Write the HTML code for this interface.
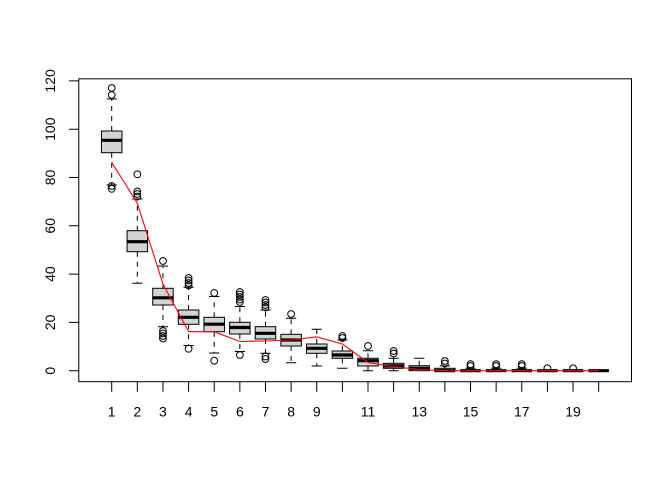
<!DOCTYPE html>
<html><head><meta charset="utf-8"><style>
html,body{margin:0;padding:0;background:#fff;}
svg{display:block;}
text{font-family:"Liberation Sans",Arial,sans-serif;font-size:14px;fill:#000;}
</style></head><body>
<svg xmlns="http://www.w3.org/2000/svg" width="672" height="480" viewBox="0 0 672 480">
<rect width="672" height="480" fill="#fff"/>
<g stroke="#000" stroke-width="1" fill="none">
<path stroke-dasharray="5,5" d="M111.7 131V99M111.7 152.7V185M137.33 230.7V199M137.33 251.7V283.3M162.96 288.3V266M162.96 305V326.7M188.59 310V287.3M188.59 324.3V345.5M214.22 317.3V296.5M214.22 331.7V353M239.85 322.3V306.5M239.85 334V351.5M265.48 326.7V310M265.48 339V353.3M291.11 334.3V318.3M291.11 346V362.7M316.74 344V329.3M316.74 353.3V366M342.37 351V340M342.37 358.3V368.3M368 358.3V350.7M368 366V370.7M393.63 363.3V358.3M393.63 368.3V370.7M419.26 365.7V358.3M444.89 368.3V365.9M470.52 370.7V368.3M496.15 370.7V368.3M521.78 370.7V368.3"/>
<path d="M106.6 99H116.8M106.6 185H116.8M132.23 199H142.43M132.23 283.3H142.43M157.86 266H168.06M157.86 326.7H168.06M183.49 287.3H193.69M183.49 345.5H193.69M209.12 296.5H219.32M209.12 353H219.32M234.75 306.5H244.95M234.75 351.5H244.95M260.38 310H270.58M260.38 353.3H270.58M286.01 318.3H296.21M286.01 362.7H296.21M311.64 329.3H321.84M311.64 366H321.84M337.27 340H347.47M337.27 368.3H347.47M362.9 350.7H373.1M362.9 370.7H373.1M388.53 358.3H398.73M388.53 370.7H398.73M414.16 358.3H424.36M439.79 365.9H449.99M465.42 368.3H475.62M491.05 368.3H501.25M516.68 368.3H526.88"/>
<g fill="#d3d3d3">
<rect x="101.45" y="131" width="20.5" height="21.7"/>
<rect x="127.08" y="230.7" width="20.5" height="21"/>
<rect x="152.71" y="288.3" width="20.5" height="16.7"/>
<rect x="178.34" y="310" width="20.5" height="14.3"/>
<rect x="203.97" y="317.3" width="20.5" height="14.4"/>
<rect x="229.6" y="322.3" width="20.5" height="11.7"/>
<rect x="255.23" y="326.7" width="20.5" height="12.3"/>
<rect x="280.86" y="334.3" width="20.5" height="11.7"/>
<rect x="306.49" y="344" width="20.5" height="9.3"/>
<rect x="332.12" y="351" width="20.5" height="7.3"/>
<rect x="357.75" y="358.3" width="20.5" height="7.7"/>
<rect x="383.38" y="363.3" width="20.5" height="5"/>
<rect x="409.01" y="365.7" width="20.5" height="5"/>
<rect x="434.64" y="368.3" width="20.5" height="2.4"/>
</g>
<path stroke-width="3.2" d="M101.45 140.3H121.95M127.08 241.7H147.58M152.71 297.8H173.21M178.34 317.3H198.84M203.97 324.2H224.47M229.6 327.5H250.1M255.23 333.3H275.73M280.86 340H301.36M306.49 348.3H326.99M332.12 355H352.62M357.75 360.7H378.25M383.38 365.9H403.88M409.01 368.3H429.51M434.64 370.7H455.14M460.27 370.7H480.77M485.9 370.7H506.4M511.53 370.7H532.03M537.16 370.7H557.66M562.79 370.7H583.29M588.42 370.7H608.92"/>
<g>
<circle cx="111.7" cy="88" r="3.4"/><circle cx="111.7" cy="95" r="3.4"/><circle cx="111.7" cy="186" r="3.4"/><circle cx="111.7" cy="188.8" r="3.4"/>
<circle cx="137.33" cy="174.3" r="3.4"/><circle cx="137.33" cy="191.5" r="3.4"/><circle cx="137.33" cy="194" r="3.4"/><circle cx="137.33" cy="196.5" r="3.4"/>
<circle cx="162.96" cy="261" r="3.4"/><circle cx="162.96" cy="331" r="3.4"/><circle cx="162.96" cy="333.5" r="3.4"/><circle cx="162.96" cy="336" r="3.4"/><circle cx="162.96" cy="338.5" r="3.4"/>
<circle cx="188.59" cy="278" r="3.4"/><circle cx="188.59" cy="280.5" r="3.4"/><circle cx="188.59" cy="283" r="3.4"/><circle cx="188.59" cy="285.5" r="3.4"/><circle cx="188.59" cy="348.8" r="3.4"/>
<circle cx="214.22" cy="293" r="3.4"/><circle cx="214.22" cy="360.7" r="3.4"/>
<circle cx="239.85" cy="292" r="3.4"/><circle cx="239.85" cy="294.5" r="3.4"/><circle cx="239.85" cy="297" r="3.4"/><circle cx="239.85" cy="299.5" r="3.4"/><circle cx="239.85" cy="302" r="3.4"/><circle cx="239.85" cy="355" r="3.4"/>
<circle cx="265.48" cy="300" r="3.4"/><circle cx="265.48" cy="302.5" r="3.4"/><circle cx="265.48" cy="305" r="3.4"/><circle cx="265.48" cy="307.5" r="3.4"/><circle cx="265.48" cy="356.5" r="3.4"/><circle cx="265.48" cy="359" r="3.4"/>
<circle cx="291.11" cy="314" r="3.4"/>
<circle cx="342.37" cy="336" r="3.4"/><circle cx="342.37" cy="338" r="3.4"/>
<circle cx="368" cy="346" r="3.4"/>
<circle cx="393.63" cy="351" r="3.4"/><circle cx="393.63" cy="353.5" r="3.4"/>
<circle cx="444.89" cy="361" r="3.4"/><circle cx="444.89" cy="363.5" r="3.4"/>
<circle cx="470.52" cy="364.2" r="3.4"/><circle cx="470.52" cy="366" r="3.4"/>
<circle cx="496.15" cy="364.2" r="3.4"/><circle cx="496.15" cy="366" r="3.4"/>
<circle cx="521.78" cy="364.2" r="3.4"/><circle cx="521.78" cy="366" r="3.4"/>
<circle cx="547.41" cy="368.3" r="3.4"/>
<circle cx="573.04" cy="368.3" r="3.4"/>
</g>
</g>
<polyline fill="none" stroke="#ff0000" stroke-width="1.1" points="111.7,162.3 137.33,203.3 162.96,284 188.59,331.7 214.22,331.7 239.85,341.5 265.48,341 291.11,340 316.74,336.8 342.37,344 368,362.5 393.63,366.7 419.26,369.5 444.89,370.7 470.52,370.7 496.15,370.7 521.78,370.7 547.41,370.7 573.04,370.7 598.67,370.7"/>
<rect x="78.8" y="78.8" width="552.7" height="302.9" fill="none" stroke="#000" stroke-width="1"/>
<path stroke="#000" stroke-width="1" fill="none" d="M69 370.7H78.8M69 322.4H78.8M69 274.1H78.8M69 225.8H78.8M69 177.5H78.8M69 129.2H78.8M69 80.9H78.8M111.7 381.7V391.7M137.33 381.7V391.7M162.96 381.7V391.7M188.59 381.7V391.7M214.22 381.7V391.7M239.85 381.7V391.7M265.48 381.7V391.7M291.11 381.7V391.7M316.74 381.7V391.7M342.37 381.7V391.7M368 381.7V391.7M393.63 381.7V391.7M419.26 381.7V391.7M444.89 381.7V391.7M470.52 381.7V391.7M496.15 381.7V391.7M521.78 381.7V391.7M547.41 381.7V391.7M573.04 381.7V391.7M598.67 381.7V391.7"/>
<g text-anchor="middle">
<text transform="translate(55,370.7) rotate(-90)">0</text>
<text transform="translate(55,322.4) rotate(-90)">20</text>
<text transform="translate(55,274.1) rotate(-90)">40</text>
<text transform="translate(55,225.8) rotate(-90)">60</text>
<text transform="translate(55,177.5) rotate(-90)">80</text>
<text transform="translate(55,129.2) rotate(-90)">100</text>
<text transform="translate(55,80.9) rotate(-90)">120</text>
</g>
<g text-anchor="middle">
<text x="111.7" y="416.5">1</text>
<text x="137.33" y="416.5">2</text>
<text x="162.96" y="416.5">3</text>
<text x="188.59" y="416.5">4</text>
<text x="214.22" y="416.5">5</text>
<text x="239.85" y="416.5">6</text>
<text x="265.48" y="416.5">7</text>
<text x="291.11" y="416.5">8</text>
<text x="316.74" y="416.5">9</text>
<text x="368" y="416.5">11</text>
<text x="419.26" y="416.5">13</text>
<text x="470.52" y="416.5">15</text>
<text x="521.78" y="416.5">17</text>
<text x="573.04" y="416.5">19</text>
</g>
</svg>
</body></html>
